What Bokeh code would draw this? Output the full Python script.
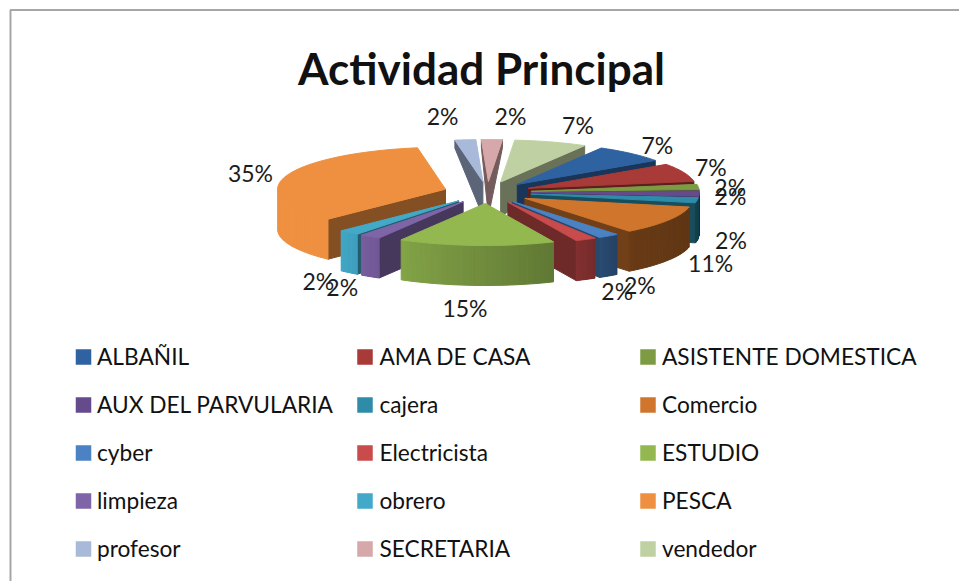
import numpy as np
from bokeh.embed import file_html
from bokeh.models import Range1d
from bokeh.plotting import figure
from bokeh.resources import INLINE
from bokeh.core.properties import value

TITLE = "Actividad Principal"
CATEGORIES = ["ALBAÑIL", "AMA DE CASA", "ASISTENTE DOMESTICA", "AUX DEL PARVULARIA", "cajera",
              "Comercio", "cyber", "Electricista", "ESTUDIO", "limpieza", "obrero", "PESCA",
              "profesor", "SECRETARIA", "vendedor"]
PERCENT = [7, 7, 2, 2, 2, 11, 2, 2, 15, 2, 2, 35, 2, 2, 7]
COLORS = ["#2f62a0", "#a83a38", "#7d9b43", "#654a8c", "#2f8ca8", "#d0762c", "#4a82c4", "#c94b4b",
          "#93b850", "#8064a8", "#43a9c8", "#ef9040", "#a9b9d9", "#d6a8a9", "#bfd1a2"]

# layout (picture pixels)
W, H = 959, 581
CX, CY, RX, K, EXPLODE, A0 = 487.0, 192.0, 168.0, 0.25, 44.0, 30.0
RY = RX * K
LABEL_SHIFT = [(8, -3), (2, -3), (5, 1), (4, 2), (7, 39), (20, 39), (16, 43), (19, 45), (-10, 56),
               (-13, 45), (-13, 43), (-9, -2), (-20, -17), (18, -17), (19, -10)]
FONT = "Lato"


def shade(hex_color, f):
    r, g, b = (int(hex_color[i:i + 2], 16) for i in (1, 3, 5))
    return "#%02x%02x%02x" % (int(r * f), int(g * f), int(b * f))


def depth(y):
    return np.clip(8 + (np.asarray(y, dtype=float) - 140) * 0.65, 8, 40)


def wall_shade(a):
    return float(np.interp(a, [90, 140, 155, 208, 226, 270], [0.45, 0.5, 0.65, 0.88, 1.0, 1.0]))


p = figure(width=W, height=H, toolbar_location=None, output_backend="svg",
           x_range=Range1d(0, W), y_range=Range1d(H, 0), min_border=0,
           outline_line_color=None, background_fill_color="white")
p.axis.visible = False
p.grid.visible = False

# the picture's frame: only its top and left edges show
p.line([W, 10, 10], [9.5, 9.5, H], line_color="#a6a6a6", line_width=2)

xs, ys, fills = [], [], []


def add(px, py, color):
    xs.append(list(px))
    ys.append(list(py))
    fills.append(color)


starts = A0 + 3.6 * (np.cumsum(PERCENT) - np.array(PERCENT))
ends = A0 + 3.6 * np.cumsum(PERCENT)
mids = (starts + ends) / 2
for i in sorted(range(len(PERCENT)), key=lambda j: -np.cos(np.radians(mids[j]))):
    a1, a2, m = starts[i], ends[i], mids[i]
    c = COLORS[i]
    tx = CX + EXPLODE * np.sin(np.radians(m))
    ty = CY - EXPLODE * K * np.cos(np.radians(m))
    ang = np.linspace(a1, a2, 30)
    rim_x = tx + RX * np.sin(np.radians(ang))
    rim_y = ty - RY * np.cos(np.radians(ang))
    # radial cut faces that look towards the viewer
    for a, nrm in ((a1, a1 - 90), (a2, a2 + 90)):
        if np.cos(np.radians(nrm)) < 0:
            ex = tx + RX * np.sin(np.radians(a))
            ey = ty - RY * np.cos(np.radians(a))
            add([tx, ex, ex, tx], [ty, ey, ey + depth(ey), ty + depth(ty)], shade(c, 0.55))
    # outer wall, in strips so that its light can change round the rim
    n = len(ang)
    for j in range(n - 1):
        am = (ang[j] + ang[j + 1]) / 2 % 360
        if 90 < am < 270:
            add([rim_x[j], rim_x[j + 1], rim_x[j + 1], rim_x[j]],
                [rim_y[j], rim_y[j + 1], rim_y[j + 1] + depth(rim_y[j + 1]), rim_y[j] + depth(rim_y[j])],
                shade(c, wall_shade(am)))
    add([tx, *rim_x], [ty, *rim_y], c)

p.patches(xs, ys, fill_color=fills, line_color=fills, line_width=1.0)

# percentage labels, placed round the pie like the original's
lx, ly, lt = [], [], []
for i, m in enumerate(mids):
    lx.append(CX + 239 * np.sin(np.radians(m)) + LABEL_SHIFT[i][0])
    ly.append(CY - 60 * np.cos(np.radians(m)) + LABEL_SHIFT[i][1])
    lt.append(f"{PERCENT[i]}%")
p.text(lx, ly, text=lt, text_font=value(FONT), text_font_size="23px", text_color="#1c1c1c",
       text_align="center", text_baseline="middle")

# title
p.text([481], [67], text=[TITLE], text_font=value(FONT), text_font_size="44px", text_font_style="bold",
       text_color="#111111", text_align="center", text_baseline="middle")

# legend: three columns, filled row by row
SWATCH_X, TEXT_X, ROW_Y0, ROW_STEP = [83, 364.5, 647.5], [96.5, 379, 661.5], 356.5, 48
sx, sy, tx_, ty_ = [], [], [], []
for i in range(len(CATEGORIES)):
    col, row = i % 3, i // 3
    sx.append(SWATCH_X[col])
    sy.append(ROW_Y0 + row * ROW_STEP)
    tx_.append(TEXT_X[col])
    ty_.append(ROW_Y0 + row * ROW_STEP - 1)
p.scatter(sx, sy, marker="square", size=15.5, fill_color=COLORS, line_color=None)
p.text(tx_, ty_, text=CATEGORIES, text_font=value(FONT), text_font_size="22.7px", text_color="#111111",
       text_align="left", text_baseline="middle")

open("out.html", "w").write(file_html(p, INLINE))
